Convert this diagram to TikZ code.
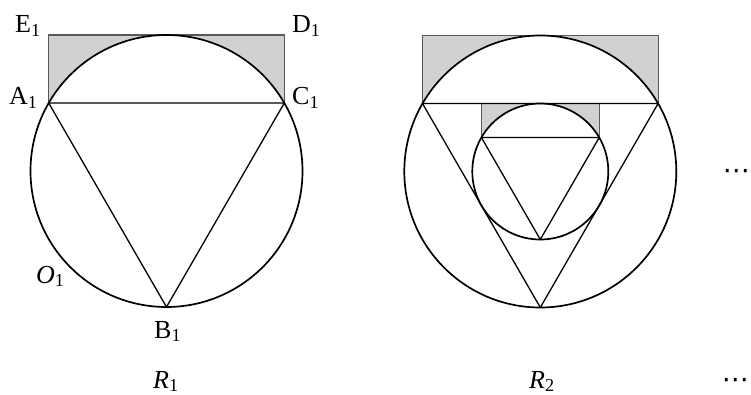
\documentclass[tikz,border=0pt]{standalone}
\usepackage{fontspec}
\setmainfont{Liberation Serif}
\newfontfamily\djv{DejaVu Sans}
\begin{document}
\begin{tikzpicture}[x=1pt,y=-1pt,line join=round,
  circ/.style={line width=1.7pt,black},
  tri/.style={line width=1.3pt,black},
  box/.style={line width=1.2pt,black!65},
  shade/.style={fill=black!18},
  lab/.style={font=\fontsize{26}{26}\selectfont,inner sep=0pt,anchor=base west},
  dotlab/.style={font=\djv\fontsize{27}{27}\selectfont,inner sep=0pt,anchor=east}]
\useasboundingbox (0,0) rectangle (751,395);
% left figure
\coordinate (O1) at (166.5,171);
\coordinate (A1) at (48.7,103);
\coordinate (C1) at (284.3,103);
\coordinate (B1) at (166.5,307);
\coordinate (E1) at (48.7,35);
\coordinate (D1) at (284.3,35);
\fill[shade] (A1) rectangle (D1);
\fill[white] (O1) circle[radius=136];
\draw[box] (A1) -- (E1) -- (D1) -- (C1);
\draw[tri] (A1) -- (C1) -- (B1) -- cycle;
\draw[circ] (O1) circle[radius=136];
% right figure
\coordinate (O2) at (540.3,171.5);
\coordinate (A2) at (422.5,103.5);
\coordinate (C2) at (658.1,103.5);
\coordinate (B2) at (540.3,307.5);
\coordinate (E2) at (422.5,35.5);
\coordinate (D2) at (658.1,35.5);
\coordinate (a2) at (481.4,137.5);
\coordinate (c2) at (599.2,137.5);
\coordinate (b2) at (540.3,239.5);
\coordinate (e2) at (481.4,103.5);
\coordinate (d2) at (599.2,103.5);
\fill[shade] (A2) rectangle (D2);
\fill[white] (O2) circle[radius=136];
\fill[shade] (a2) rectangle (d2);
\fill[white] (O2) circle[radius=68];
\draw[box] (A2) -- (E2) -- (D2) -- (C2);
\draw[box] (a2) -- (e2) -- (d2) -- (c2);
\draw[tri] (A2) -- (C2) -- (B2) -- cycle;
\draw[tri] (a2) -- (c2) -- (b2) -- cycle;
\draw[circ] (O2) circle[radius=136];
\draw[circ] (O2) circle[radius=68];
% labels
\node[lab] (lE) at (15,33) {E\textsubscript{1}};
\node[lab] (lD) at (292,33) {D\textsubscript{1}};
\node[lab] (lA) at (9,105) {A\textsubscript{1}};
\node[lab] (lC) at (292,105) {C\textsubscript{1}};
\node[lab] (lO) at (36,283) {\textit{O}\textsubscript{1}};
\node[lab] (lB) at (154,338) {B\textsubscript{1}};
\node[lab] (lR1) at (153,388) {\textit{R}\textsubscript{1}};
\node[lab] (lR2) at (529,388) {\textit{R}\textsubscript{2}};
\node[dotlab] (dots1) at (750,174) {⋯};
\node[dotlab] (dots2) at (749,383) {⋯};
\end{tikzpicture}
\end{document}
